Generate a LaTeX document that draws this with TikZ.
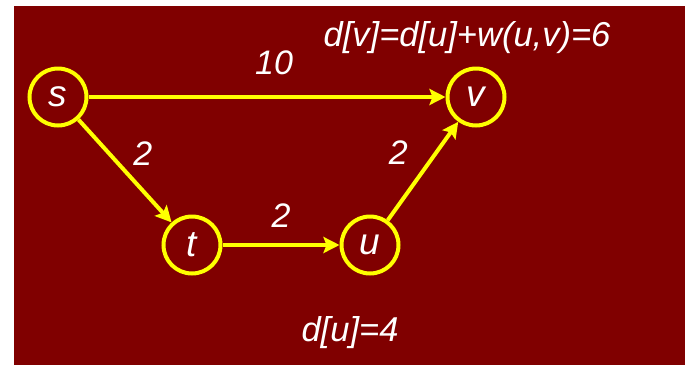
\documentclass[tikz,border=0pt]{standalone}
\usepackage{fontspec}
\setmainfont{Liberation Sans}
\usetikzlibrary{arrows.meta,positioning}
\definecolor{slidebg}{HTML}{800000}
\definecolor{hilite}{HTML}{FFFF00}
\tikzset{
  vert/.style={circle, draw=hilite, line width=4pt, minimum size=57pt,
    inner sep=0pt, text=white, font=\fontsize{37}{41}\selectfont\itshape},
  wlbl/.style={text=white, font=\fontsize{34}{38}\selectfont\itshape},
  note/.style={text=white, font=\fontsize{34.5}{38}\selectfont\itshape},
  flow/.style={-{Stealth[length=16pt, width=16pt, inset=3pt]}, draw=hilite,
    line width=4pt}
}

\begin{document}
\begin{tikzpicture}[x=1pt, y=-1pt]
  \useasboundingbox (0,0) rectangle (685,365);
  \fill[slidebg] (14,6) rectangle (685,365);
  % vertices
  \node[vert] (s) at (58,97) {s};
  \node[vert] (t) at (192,245) {t};
  \node[vert] (u) at (370,245) {u};
  \node[vert] (v) at (476,97) {v};
  % weighted edges
  \draw[flow] (s) -- node[wlbl, pos=0.52, above=17pt] {10} (v);
  \draw[flow] (s) -- node[wlbl, above right=0pt and 3pt] {2} (t);
  \draw[flow] (t) -- node[wlbl, above=12pt] {2} (u);
  \draw[flow] (u) -- node[wlbl, above left=1pt and 10pt] {2} (v);
  % relaxation notes
  \node[note] (dv) at (467,38) {d[v]=d[u]+w(u,v)=6};
  \node[note] (du) at (350,333) {d[u]=4};
\end{tikzpicture}
\end{document}
